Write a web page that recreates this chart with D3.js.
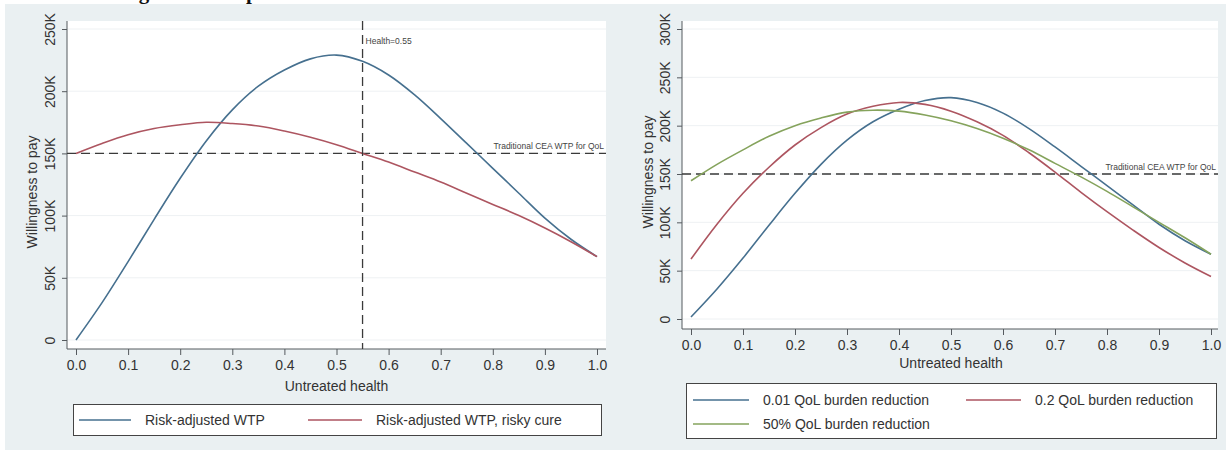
<!DOCTYPE html>
<html>
<head>
<meta charset="utf-8">
<script src="https://cdn.jsdelivr.net/npm/d3@7/dist/d3.min.js"></script>
<style>
  html, body { margin: 0; padding: 0; background: #ffffff; }
  svg { display: block; }
  text { font-family: "Liberation Sans", Arial, sans-serif; }
</style>
</head>
<body>
<svg id="chart" width="1232" height="450"></svg>
<script>
// Untreated health grid shared by all curves
const health = [0, 0.05, 0.1, 0.15, 0.2, 0.25, 0.3, 0.35, 0.4, 0.45, 0.5,
                0.55, 0.6, 0.65, 0.7, 0.75, 0.8, 0.85, 0.9, 0.95, 1.0];

// Left panel series (WTP in dollars)
const riskAdjustedWTP = [0, 30000, 63000, 97000, 130000, 160000, 185000, 204000, 217000, 226000, 229000,
                         224000, 213000, 197000, 178000, 158000, 138000, 118000, 98000, 81000, 67000];
const riskyCureWTP = [150000, 158000, 165000, 170000, 173000, 175000, 174000, 172000, 168000, 163000, 157000,
                      150000, 143000, 135000, 127000, 118000, 109000, 100000, 90000, 79000, 67000];

// Right panel series (WTP in dollars)
const burden001 = [2000, 31000, 63000, 97000, 130000, 160000, 185000, 204000, 217000, 226000, 229000,
                   224000, 213000, 197000, 178000, 158000, 138000, 118000, 98000, 81000, 67000];
const burden02 = [62000, 98000, 130000, 157000, 180000, 198000, 212000, 220000, 224000, 222000, 215000,
                  204000, 190000, 172000, 152000, 131000, 111000, 92000, 74000, 58000, 44000];
const burden50pct = [143000, 160000, 175000, 189000, 200000, 208000, 214000, 216000, 215000, 211000, 205000,
                     197000, 187000, 175000, 161000, 147000, 132000, 116000, 100000, 84000, 67000];

// Axis ticks and labels
const xTicks = [0, 0.1, 0.2, 0.3, 0.4, 0.5, 0.6, 0.7, 0.8, 0.9, 1.0];
const xTickLabels = ["0.0", "0.1", "0.2", "0.3", "0.4", "0.5", "0.6", "0.7", "0.8", "0.9", "1.0"];
const yTicksLeft = [0, 50000, 100000, 150000, 200000, 250000];
const yTicksRight = [0, 50000, 100000, 150000, 200000, 250000, 300000];
const traditionalWTP = 150000;
const healthMarker = 0.55;

const leftLegend = ["Risk-adjusted WTP", "Risk-adjusted WTP, risky cure"];
const rightLegend = ["0.01 QoL burden reduction", "0.2 QoL burden reduction", "50% QoL burden reduction"];

const COLORS = { blue: "#46708f", red: "#ad5560", green: "#85a35c" };
const BG = "#eaf0f2";
const AXIS = "#555a5e";
const TEXT = "#333333";

const svg = d3.select("#chart");

// Page title (runs off the top edge)
svg.append("text")
  .attr("x", 80).attr("y", -1)
  .attr("font-weight", "bold").attr("font-size", 21)
  .attr("fill", "#111")
  .style("font-family", "'Liberation Serif', 'Times New Roman', serif")
  .text("Valuing Health Improvements");

// Graph region background
svg.append("rect").attr("x", 5).attr("y", 4).attr("width", 1221).attr("height", 446).attr("fill", BG);

function fmtK(v) { return v === 0 ? "0" : (v / 1000) + "K"; }

function drawPanel(cfg) {
  const g = svg.append("g");
  const x = d3.scaleLinear().domain([0, 1]).range([cfg.x0, cfg.x1]);
  const y = d3.scaleLinear().domain([0, cfg.yMax]).range([cfg.y0, cfg.yTop]);

  // plot region
  g.append("rect")
    .attr("x", cfg.axisX).attr("y", cfg.plotTop)
    .attr("width", cfg.plotRight - cfg.axisX).attr("height", cfg.axisY - cfg.plotTop)
    .attr("fill", "#ffffff");

  // horizontal gridlines
  g.append("g").selectAll("line").data(cfg.yTicks).join("line")
    .attr("x1", cfg.axisX).attr("x2", cfg.plotRight)
    .attr("y1", d => y(d)).attr("y2", d => y(d))
    .attr("stroke", "#eef1f3").attr("stroke-width", 1);

  // y axis
  const yAxis = d3.axisLeft(y).tickValues(cfg.yTicks).tickFormat(fmtK).tickSize(5).tickPadding(4);
  const ya = g.append("g").attr("transform", `translate(${cfg.axisX},0)`).call(yAxis);
  ya.select(".domain").remove();
  ya.selectAll(".tick line").attr("stroke", AXIS);
  ya.selectAll(".tick text")
    .attr("x", 0).attr("dy", null)
    .attr("transform", `translate(${cfg.yLabelX - cfg.axisX},0) rotate(-90)`)
    .attr("text-anchor", "middle").attr("dominant-baseline", "central")
    .attr("font-size", 14).attr("fill", TEXT);
  g.append("line").attr("x1", cfg.axisX).attr("x2", cfg.axisX)
    .attr("y1", cfg.plotTop).attr("y2", cfg.axisY).attr("stroke", AXIS).attr("stroke-width", 1);

  // x axis
  const xAxis = d3.axisBottom(x).tickValues(xTicks).tickFormat((d, i) => xTickLabels[i]).tickSize(6).tickPadding(4);
  const xa = g.append("g").attr("transform", `translate(0,${cfg.axisY})`).call(xAxis);
  xa.select(".domain").remove();
  xa.selectAll(".tick line").attr("stroke", AXIS);
  xa.selectAll(".tick text")
    .attr("y", cfg.xLabelY - cfg.axisY).attr("dy", null)
    .attr("dominant-baseline", "central")
    .attr("font-size", 14).attr("fill", TEXT);
  g.append("line").attr("x1", cfg.axisX).attr("x2", cfg.plotRight)
    .attr("y1", cfg.axisY).attr("y2", cfg.axisY).attr("stroke", AXIS).attr("stroke-width", 1);

  // axis titles
  g.append("text")
    .attr("transform", `translate(${cfg.yTitleX},${cfg.yTitleY}) rotate(-90)`)
    .attr("text-anchor", "middle").attr("dominant-baseline", "central")
    .attr("font-size", 14).attr("fill", TEXT).text("Willingness to pay");
  g.append("text")
    .attr("x", (cfg.x0 + cfg.x1) / 2).attr("y", cfg.xTitleY)
    .attr("text-anchor", "middle").attr("dominant-baseline", "central")
    .attr("font-size", 14).attr("fill", TEXT).text("Untreated health");

  // reference line at the traditional CEA threshold
  g.append("line")
    .attr("x1", cfg.axisX).attr("x2", cfg.plotRight)
    .attr("y1", y(traditionalWTP)).attr("y2", y(traditionalWTP))
    .attr("stroke", "#3a3a3a").attr("stroke-width", 1.3).attr("stroke-dasharray", "9,5");
  g.append("text")
    .attr("x", cfg.plotRight - 2).attr("y", y(traditionalWTP) - 4)
    .attr("text-anchor", "end").attr("font-size", 8.5).attr("fill", "#444")
    .text("Traditional CEA WTP for QoL");

  const line = d3.line()
    .x((d, i) => x(health[i]))
    .y(d => y(d))
    .curve(d3.curveCatmullRom.alpha(0.5));

  cfg.series.forEach(s => {
    g.append("path").datum(s.values)
      .attr("d", line).attr("fill", "none")
      .attr("stroke", s.color).attr("stroke-width", 1.6);
  });

  return { g, x, y };
}

// ---- Left panel ----
const left = drawPanel({
  x0: 76, x1: 597, axisX: 67, plotRight: 606, plotTop: 21, axisY: 349,
  y0: 340, yTop: 29, yMax: 250000, yTicks: yTicksLeft,
  yLabelX: 50, yTitleX: 32, yTitleY: 192, xLabelY: 365, xTitleY: 386,
  series: [
    { values: riskAdjustedWTP, color: COLORS.blue },
    { values: riskyCureWTP, color: COLORS.red }
  ]
});

// vertical marker at health = 0.55
left.g.append("line")
  .attr("x1", left.x(healthMarker)).attr("x2", left.x(healthMarker))
  .attr("y1", 21).attr("y2", 349)
  .attr("stroke", "#3a3a3a").attr("stroke-width", 1.3).attr("stroke-dasharray", "9,5");
left.g.append("text")
  .attr("x", left.x(healthMarker) + 3).attr("y", 44)
  .attr("font-size", 8.5).attr("fill", "#444").text("Health=" + healthMarker);

// ---- Right panel ----
drawPanel({
  x0: 691, x1: 1211, axisX: 682, plotRight: 1218, plotTop: 21, axisY: 329,
  y0: 319, yTop: 29, yMax: 300000, yTicks: yTicksRight,
  yLabelX: 665, yTitleX: 648, yTitleY: 172, xLabelY: 345, xTitleY: 363,
  series: [
    { values: burden001, color: COLORS.blue },
    { values: burden02, color: COLORS.red },
    { values: burden50pct, color: COLORS.green }
  ]
});

// ---- Legends ----
function legendBox(x, y, w, h) {
  svg.append("rect").attr("x", x + 0.5).attr("y", y + 0.5).attr("width", w).attr("height", h)
    .attr("fill", "#ffffff").attr("stroke", "#444").attr("stroke-width", 1);
}
function legendItem(x1, x2, y, color, label) {
  svg.append("line").attr("x1", x1).attr("x2", x2).attr("y1", y).attr("y2", y)
    .attr("stroke", color).attr("stroke-width", 1.6);
  svg.append("text").attr("x", x2 + 14).attr("y", y).attr("dominant-baseline", "central")
    .attr("font-size", 14).attr("fill", TEXT).text(label);
}

legendBox(73, 404, 528, 31);
legendItem(79, 131, 420, COLORS.blue, leftLegend[0]);
legendItem(308, 362, 420, COLORS.red, leftLegend[1]);

legendBox(686, 383, 530, 55);
legendItem(693, 749, 400, COLORS.blue, rightLegend[0]);
legendItem(966, 1021, 400, COLORS.red, rightLegend[1]);
legendItem(693, 749, 424, COLORS.green, rightLegend[2]);
</script>
</body>
</html>
